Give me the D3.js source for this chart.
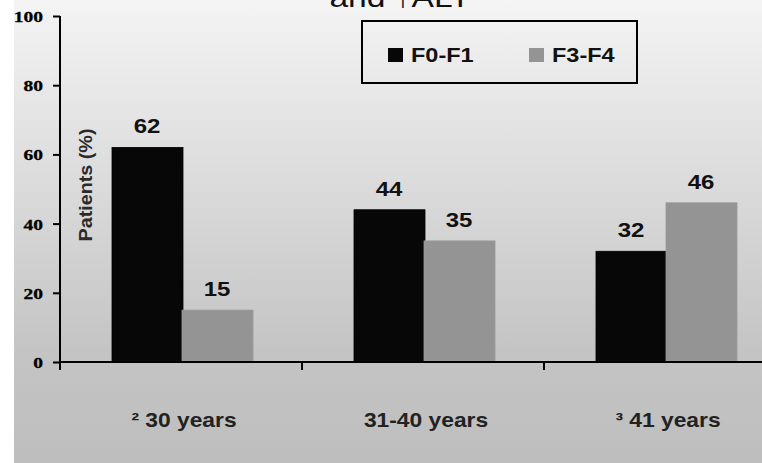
<!DOCTYPE html>
<html>
<head>
<meta charset="utf-8">
<script src="https://cdn.jsdelivr.net/npm/d3@7"></script>
<style>
  html, body { margin: 0; padding: 0; background: #fff; }
  svg { display: block; }
</style>
</head>
<body>
<svg id="chart" width="762" height="463"></svg>
<script>
// Fibrosis stage by age group
const categories = ["\u00B2 30 years", "31-40 years", "\u00B3 41 years"];
const seriesNames = ["F0-F1", "F3-F4"];
const f0f1 = [62, 44, 32];
const f3f4 = [15, 35, 46];
const yTicks = [0, 20, 40, 60, 80, 100];
const titleText = "and \u2191ALT";
const yLabel = "Patients (%)";

const seriesColors = ["#070707", "#949494"];
const seriesStroke = ["#000000", "#999999"];

const svg = d3.select("#chart");
const W = 762, H = 463;

// backdrop: white strip on the left, grey gradient elsewhere
const defs = svg.append("defs");
const grad = defs.append("linearGradient")
  .attr("id", "bg").attr("x1", 0).attr("y1", 0).attr("x2", 0).attr("y2", 1);
grad.append("stop").attr("offset", "0").attr("stop-color", "#f4f4f4");
grad.append("stop").attr("offset", "0.35").attr("stop-color", "#dedede");
grad.append("stop").attr("offset", "0.76").attr("stop-color", "#c4c4c4");
grad.append("stop").attr("offset", "1").attr("stop-color", "#bebebe");
svg.append("rect").attr("x", 0).attr("y", 0).attr("width", W).attr("height", H).attr("fill", "#ffffff");
svg.append("rect").attr("x", 14).attr("y", 0).attr("width", W - 14).attr("height", H).attr("fill", "url(#bg)");

// scales
const x0 = d3.scaleBand().domain(categories).range([60, 786]).paddingInner(0).paddingOuter(0);
const x1 = d3.scaleBand().domain(seriesNames).range([52, 192]).padding(0);
const y = d3.scaleLinear().domain([0, 100]).range([362, 16]);

const rows = categories.map((c, i) => ({ cat: c, values: [f0f1[i], f3f4[i]] }));

// helper: text drawn with a slight horizontal stretch
function stretchedText(g, x, yy, txt, opts) {
  return g.append("text")
    .attr("transform", `translate(${x},${yy}) scale(${opts.sx || 1},1)`)
    .attr("text-anchor", opts.anchor || "middle")
    .attr("font-family", opts.family || "'Liberation Sans', Arial, sans-serif")
    .attr("font-size", opts.size)
    .attr("font-weight", opts.weight || "bold")
    .attr("fill", opts.fill || "#111")
    .text(txt);
}

// bars
const groups = svg.append("g").selectAll("g.cat")
  .data(rows).join("g").attr("class", "cat")
  .attr("transform", d => `translate(${x0(d.cat)},0)`);

groups.selectAll("rect")
  .data(d => d.values.map((v, k) => ({ key: seriesNames[k], v, k })))
  .join("rect")
  .attr("x", d => x1(d.key))
  .attr("y", d => y(d.v))
  .attr("width", x1.bandwidth() + 1)
  .attr("height", d => y(0) - y(d.v))
  .attr("fill", d => seriesColors[d.k])
  .attr("stroke", d => seriesStroke[d.k])
  .attr("stroke-width", 0.8);

// value labels
groups.each(function(d) {
  const g = d3.select(this);
  d.values.forEach((v, k) => {
    const cx = x1(seriesNames[k]) + x1.bandwidth() / 2;
    stretchedText(g, cx, y(v) - 14, String(v), { size: 20, sx: 1.2, fill: "#111" });
  });
});

// y axis
const yAxis = d3.axisLeft(y).tickValues(yTicks).tickSize(7).tickFormat(d3.format("d"));
const gy = svg.append("g").attr("transform", "translate(60,0)").call(yAxis);
gy.select(".domain").remove();
gy.selectAll(".tick line").attr("stroke", "#000").attr("stroke-width", 2);
gy.selectAll(".tick text").remove();
gy.selectAll(".tick").each(function(d) {
  stretchedText(d3.select(this), -17, 5.5, String(d), {
    size: 15, sx: 1.3, anchor: "end",
    family: "'Liberation Serif', 'Times New Roman', serif", fill: "#000"
  }).attr("stroke", "#000").attr("stroke-width", 0.3);
});
svg.append("line")
  .attr("x1", 60).attr("x2", 60).attr("y1", y(100)).attr("y2", 370)
  .attr("stroke", "#000").attr("stroke-width", 2);

// x axis: baseline with ticks at the category boundaries
svg.append("line")
  .attr("x1", 59).attr("x2", W).attr("y1", y(0)).attr("y2", y(0))
  .attr("stroke", "#000").attr("stroke-width", 2);
svg.append("g").selectAll("line")
  .data(categories)
  .join("line")
  .attr("x1", d => x0(d)).attr("x2", d => x0(d))
  .attr("y1", y(0)).attr("y2", 370)
  .attr("stroke", "#000").attr("stroke-width", 2);

// category labels
categories.forEach(c => {
  stretchedText(svg, x0(c) + x0.bandwidth() / 2 + 3, 427, c, { size: 20, sx: 1.14, fill: "#222" });
});

// y axis title
svg.append("text")
  .attr("transform", "translate(92,185) rotate(-90)")
  .attr("text-anchor", "middle")
  .attr("font-family", "'Liberation Sans', Arial, sans-serif")
  .attr("font-size", 18)
  .attr("font-weight", "bold")
  .attr("fill", "#2a2a2a")
  .attr("textLength", 113)
  .attr("lengthAdjust", "spacingAndGlyphs")
  .text(yLabel);

// title (last line)
stretchedText(svg, 400, 7, titleText, { size: 28, sx: 1.2, weight: "normal", fill: "#111" });

// legend
const legend = svg.append("g");
legend.append("rect")
  .attr("x", 362).attr("y", 21).attr("width", 275).attr("height", 62)
  .attr("fill", "none").attr("stroke", "#000").attr("stroke-width", 2);
const legendX = [388, 529];
seriesNames.forEach((s, k) => {
  legend.append("rect")
    .attr("x", legendX[k]).attr("y", 48).attr("width", 15).attr("height", 14)
    .attr("fill", seriesColors[k]);
  stretchedText(legend, legendX[k] + 23, 62, s, { size: 21, sx: 1.12, anchor: "start", fill: "#111" });
});
</script>
</body>
</html>
